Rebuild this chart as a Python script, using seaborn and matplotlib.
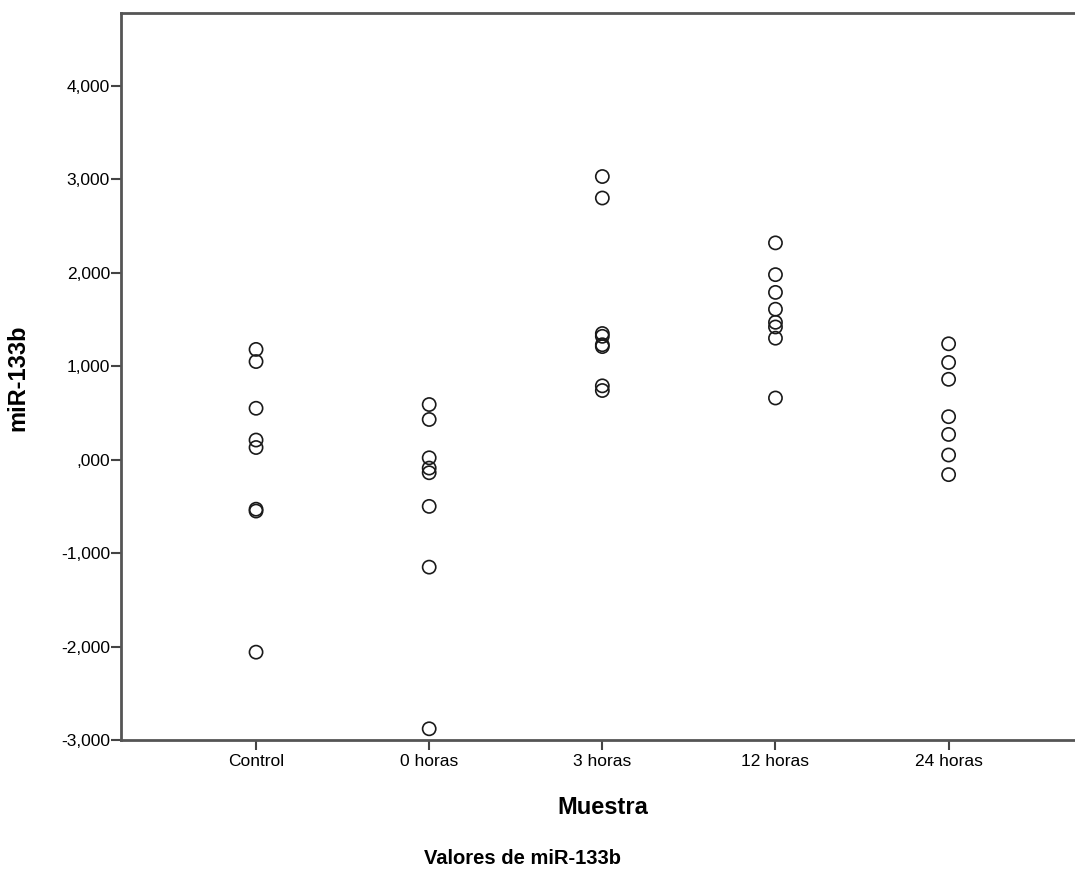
import numpy as np
import pandas as pd
import matplotlib
matplotlib.use("Agg")
import matplotlib.pyplot as plt
from matplotlib.ticker import FuncFormatter
import seaborn as sns

groups = ["Control", "0 horas", "3 horas", "12 horas", "24 horas"]
control = [1.18, 1.05, 0.55, 0.21, 0.13, -0.53, -0.55, -2.06]
horas_0 = [0.59, 0.43, 0.02, -0.09, -0.14, -0.50, -1.15, -2.88]
horas_3 = [3.03, 2.80, 1.35, 1.32, 1.23, 1.21, 0.79, 0.74]
horas_12 = [2.32, 1.98, 1.79, 1.61, 1.47, 1.42, 1.30, 0.66]
horas_24 = [1.24, 1.04, 0.86, 0.46, 0.27, 0.05, -0.16]

series = [control, horas_0, horas_3, horas_12, horas_24]
df = pd.DataFrame({
    "Muestra": [g for g, vals in zip(groups, series) for _ in vals],
    "miR-133b": [v for vals in series for v in vals],
})

sns.set_style("white")
plt.rcParams["font.family"] = ["Liberation Sans", "DejaVu Sans"]
plt.rcParams["text.color"] = "black"
plt.rcParams["axes.labelcolor"] = "black"

fig = plt.figure(figsize=(10.75, 8.75), dpi=100)
ax = fig.add_axes([121 / 1075, 1 - 740 / 875, 1 - 121 / 1075, (740 - 13) / 875])

sns.stripplot(data=df, x="Muestra", y="miR-133b", order=groups, jitter=False,
              size=9.5, ax=ax)
for coll in ax.collections:
    coll.set_facecolor("none")
    coll.set_edgecolor("#1a1a1a")
    coll.set_linewidth(1.2)

ax.set_xlim(-0.78, 4.73)
ax.set_ylim(-3.0, 4.78)
ax.set_yticks(np.arange(-3, 5, 1))


def fmt(v, pos):
    s = f"{v:.3f}".replace(".", ",")
    if s.startswith("0,"):
        s = s[1:]
    if s.startswith("-0,"):
        s = "-" + s[2:]
    return s


ax.yaxis.set_major_formatter(FuncFormatter(fmt))

for side in ["left", "top", "bottom"]:
    ax.spines[side].set_color("#555555")
    ax.spines[side].set_linewidth(2)
ax.spines["right"].set_visible(False)
ax.tick_params(axis="both", direction="out", length=7, width=1.5,
               color="#444444", labelsize=12.5, labelcolor="black",
               left=True, bottom=True, pad=1)
ax.tick_params(axis="x", pad=3)

ax.set_xlabel("Muestra", fontsize=17, fontweight="bold")
ax.set_ylabel("miR-133b", fontsize=17, fontweight="bold")
ax.xaxis.set_label_coords((603 - 121) / 954, (740 - 808) / 727)
ax.yaxis.set_label_coords((18 - 121) / 954, (740 - 378) / 727)
ax.xaxis.label.set_va("center")
ax.yaxis.label.set_va("center")
fig.text(523 / 1075, 1 - 858 / 875, "Valores de miR-133b", ha="center",
         va="center", fontsize=14.5, fontweight="bold")

fig.savefig("out.png", dpi=100)
